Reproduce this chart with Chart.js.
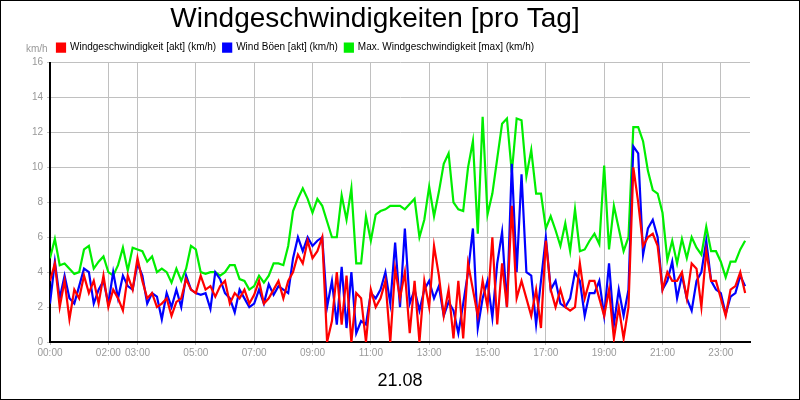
<!DOCTYPE html>
<html><head><meta charset="utf-8">
<script src="https://cdn.jsdelivr.net/npm/chart.js@4/dist/chart.umd.min.js"></script>
<style>html,body{margin:0;padding:0;background:#fff}#w{width:800px;height:400px;position:relative}</style>
</head><body><div id="w"><canvas id="c"></canvas></div>
<script>
const dayLabel = "21.08";
const titleText = "Windgeschwindigkeiten [pro Tag]";
const unitText = "km/h";
const seriesNames = ["Windgeschwindigkeit [akt] (km/h)", "Wind Böen [akt] (km/h)", "Max. Windgeschwindigkeit [max] (km/h)"];
const tickMinutes = [0,120,180,300,420,540,660,780,900,1020,1140,1260,1380];
// values every 10 minutes, 00:00 .. 23:50
const windAvg = [
3.5,4.5,2.0,3.5,1.3,3.0, 2.5,3.8,2.8,3.5,2.2,3.8, 2.0,3.0,2.5,1.8,3.8,3.0, 4.8,3.5,2.5,2.8,2.0,2.2,
2.5,1.5,2.3,2.5,3.6,3.0, 2.8,3.8,3.0,3.2,2.6,3.2, 3.5,2.2,2.8,2.5,3.0,2.2, 2.7,3.5,2.2,2.5,3.0,3.5,
2.5,3.5,4.0,5.0,4.5,5.8, 4.8,5.2,6.0,0.0,1.2,4.0, 1.0,3.8,0.0,2.8,2.5,0.0, 3.0,2.0,2.5,3.5,0.0,4.2,
2.5,4.0,0.5,3.5,0.0,3.5, 2.0,5.5,3.8,1.5,3.0,0.2, 3.5,0.2,4.5,3.0,1.5,3.5, 2.0,6.0,1.0,4.5,2.0,7.8,
2.5,3.5,2.5,1.5,3.0,0.8, 5.8,3.0,2.0,3.0,2.0,1.8, 2.0,4.5,2.5,3.5,3.5,2.5, 1.5,3.0,0.2,2.0,0.2,2.0,
10.0,8.0,5.5,6.0,6.2,5.5, 3.0,4.0,3.5,3.5,4.0,2.5, 4.5,4.2,2.0,5.2,3.5,3.5, 2.5,1.5,3.0,3.2,4.0,2.8];
const windGust = [
2.2,4.6,2.5,3.8,2.5,2.2, 3.2,4.2,4.0,2.2,3.0,3.5, 2.2,4.0,2.5,3.8,3.2,3.0, 4.5,3.8,2.2,2.8,2.6,1.3,
2.8,2.0,3.0,2.0,3.8,3.0, 2.8,2.7,2.8,1.9,4.0,3.6, 2.8,2.5,1.7,3.0,2.5,2.0, 2.2,3.0,2.2,3.3,2.7,3.2,
3.0,2.8,4.8,6.0,5.2,6.0, 5.5,5.8,6.0,2.0,3.5,1.0, 4.3,0.8,4.0,0.5,1.2,1.0, 2.8,2.5,3.0,4.0,2.2,5.7,
2.0,6.5,2.2,3.0,1.8,3.0, 3.5,2.5,3.2,1.5,2.3,1.8, 0.5,2.2,4.0,6.5,0.8,2.5, 3.5,1.4,4.5,6.3,2.0,10.2,
4.0,9.6,4.0,3.8,1.0,3.5, 6.0,3.0,3.5,2.2,2.0,2.5, 4.0,3.5,1.5,2.8,2.8,3.5, 1.5,4.5,1.0,3.0,1.5,3.0,
11.2,10.8,5.0,6.5,7.0,6.0, 3.0,3.5,4.6,2.5,3.8,2.5, 1.8,3.5,4.0,5.8,3.5,3.0, 2.8,1.6,2.6,2.8,3.8,3.2];
const windMax = [
4.8,5.9,4.4,4.5,4.2,3.9, 4.0,5.3,5.5,4.2,4.6,4.9, 4.0,3.8,4.4,5.4,4.1,5.4, 5.3,5.2,4.6,4.9,4.0,4.2,
4.0,3.4,4.2,3.5,4.2,5.5, 5.3,4.0,3.9,4.0,4.0,3.8, 4.0,4.4,4.4,3.6,3.5,3.0, 3.2,3.8,3.4,3.8,4.5,4.5,
4.4,5.5,7.5,8.2,8.8,8.2, 7.4,8.2,7.8,6.9,6.0,6.0, 8.4,7.0,8.8,4.5,4.5,7.2, 5.8,7.3,7.5,7.6,7.8,7.8,
7.8,7.6,7.9,8.2,6.0,7.0, 8.9,7.2,8.6,10.2,10.8,8.0, 7.6,7.5,10.0,11.5,6.2,12.9, 7.3,8.5,10.5,12.5,12.8,9.7,
12.8,12.7,9.5,11.0,8.5,8.5, 6.5,7.2,6.4,5.5,6.8,5.2, 7.6,5.2,5.3,5.8,6.2,5.6, 10.1,5.3,7.8,6.5,5.2,6.0,
12.3,12.3,11.5,9.8,8.7,8.5, 7.4,4.7,5.8,4.5,5.9,4.8, 6.0,5.4,5.0,6.6,5.2,5.2, 4.6,3.7,4.6,4.6,5.3,5.8];

const pts = a => a.map((v,i)=>({x:i*10,y:v}));
const fmt = m => String(Math.floor(m/60)).padStart(2,'0')+':'+String(m%60).padStart(2,'0');

const extras = {
  id:'extras',
  afterLayout(ch){
    const lg = ch.legend;
    if (lg) { lg.left += 50; lg.right += 50; }
  },
  afterDraw(ch){
    const c = ch.ctx; c.save();
    c.fillStyle='#999'; c.font='10px "Liberation Sans", Arial'; c.textAlign='left'; c.textBaseline='alphabetic';
    c.fillText(unitText, 26, 52);
    c.fillStyle='#000'; c.font='18px "Liberation Sans", Arial'; c.textAlign='center';
    c.fillText(dayLabel, 400, 386);
    c.strokeStyle='#000'; c.lineWidth=1; c.strokeRect(0.5,0.5,799,399);
    c.restore();
  }
};

new Chart(document.getElementById('c'), {
  type:'line',
  data:{datasets:[
    {label:seriesNames[0], data:pts(windAvg), borderColor:'#ff0000', backgroundColor:'#ff0000'},
    {label:seriesNames[1], data:pts(windGust), borderColor:'#0000ff', backgroundColor:'#0000ff'},
    {label:seriesNames[2], data:pts(windMax), borderColor:'#00ee00', backgroundColor:'#00ee00'}
  ]},
  options:{
    responsive:true, maintainAspectRatio:false, animation:false,
    elements:{point:{radius:0}, line:{borderWidth:2.2, tension:0}},
    layout:{padding:{left:0,right:50,top:0,bottom:44}},
    plugins:{
      title:{display:true, text:titleText, color:'#000', font:{family:'"Liberation Sans", Arial', size:28, weight:'normal'}, padding:{top:2,bottom:0}},
      legend:{display:true, align:'start', labels:{boxWidth:8, boxHeight:8, padding:7, color:'#000', font:{family:'"Liberation Sans", Arial', size:10}}},
      tooltip:{enabled:false}
    },
    scales:{
      x:{type:'linear', min:0, max:1440,
        afterBuildTicks(s){ s.ticks = tickMinutes.map(v=>({value:v})); },
        afterFit(s){ s.height = 14; },
        ticks:{autoSkip:false, maxRotation:0, color:'#999', font:{family:'"Liberation Sans", Arial', size:10}, padding:2, callback:v=>fmt(v)},
        grid:{color:'#c0c0c0', lineWidth:1, drawTicks:true, tickLength:3},
        border:{color:'#000', width:2}},
      y:{min:0, max:16,
        afterFit(s){ s.width = 50; },
        ticks:{stepSize:2, color:'#999', font:{family:'"Liberation Sans", Arial', size:10}, padding:4},
        grid:{color:'#c0c0c0', lineWidth:1, tickLength:3},
        border:{color:'#000', width:2}}
    }
  },
  plugins:[extras]
});
</script></body></html>
